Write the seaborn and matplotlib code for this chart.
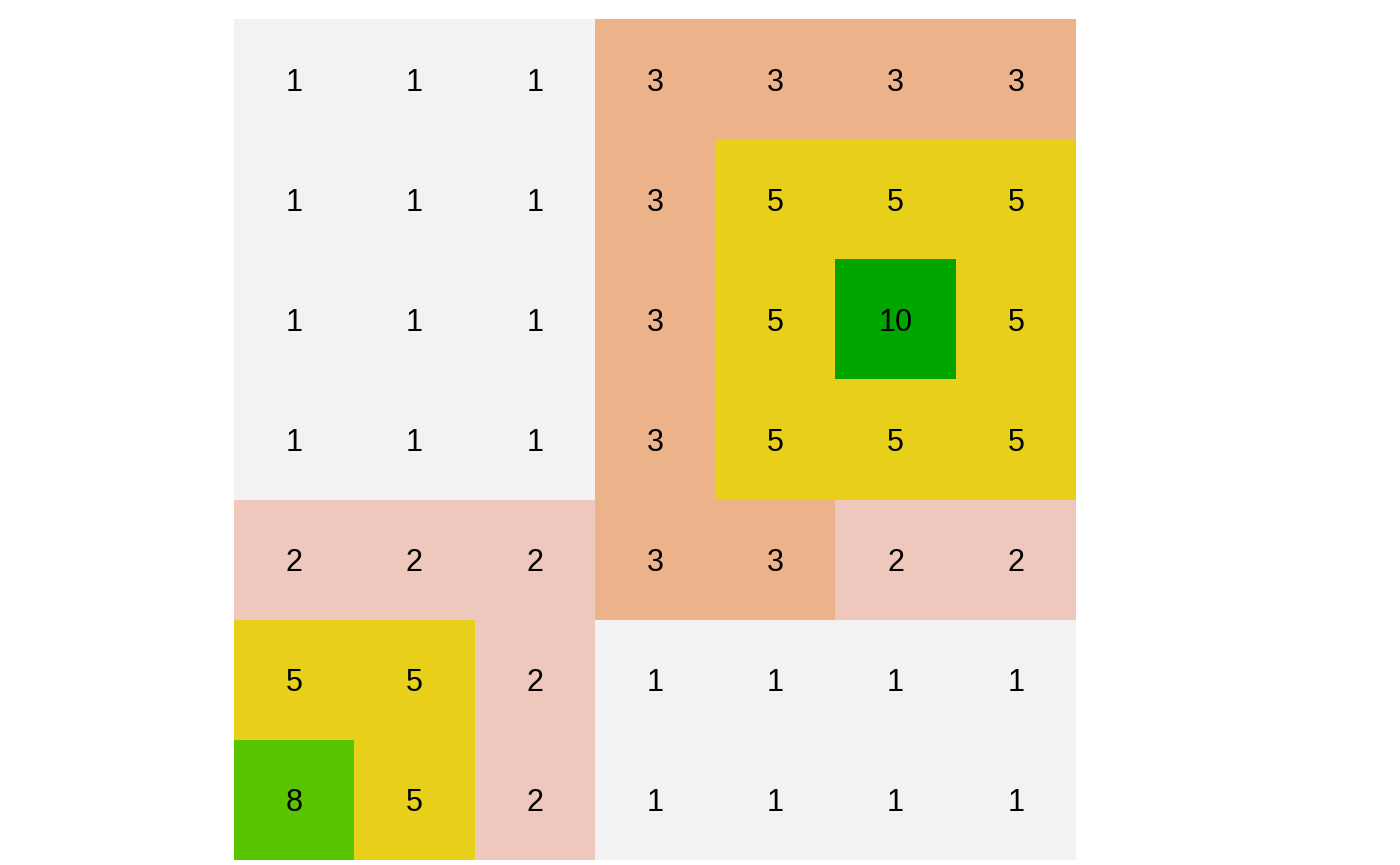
import numpy as np
import pandas as pd
import matplotlib
matplotlib.use("Agg")
import matplotlib.pyplot as plt
import seaborn as sns
from matplotlib.colors import ListedColormap

row1 = [1, 1, 1, 3, 3, 3, 3]
row2 = [1, 1, 1, 3, 5, 5, 5]
row3 = [1, 1, 1, 3, 5, 10, 5]
row4 = [1, 1, 1, 3, 5, 5, 5]
row5 = [2, 2, 2, 3, 3, 2, 2]
row6 = [5, 5, 2, 1, 1, 1, 1]
row7 = [8, 5, 2, 1, 1, 1, 1]

# value -> colour (values 1..10)
level_colors = ["#F2F2F2", "#EEC8BC", "#ECB28A", "#EAC14E", "#E8D01A",
                "#C8D400", "#90CE00", "#58C400", "#2DB600", "#00A600"]

data = pd.DataFrame([row1, row2, row3, row4, row5, row6, row7])

sns.set_theme(style="white")
plt.rcParams['font.family'] = ['Liberation Sans', 'DejaVu Sans']

fig = plt.figure(figsize=(14, 8.65), dpi=100)
ax = fig.add_axes([234/1400, 5/865, (1076-234)/1400, (860-19)/865])
sns.heatmap(data, ax=ax, cmap=ListedColormap(level_colors), vmin=0.5, vmax=10.5,
            annot=True, fmt="d", cbar=False, square=False,
            annot_kws={"color": "black", "fontsize": 22},
            xticklabels=False, yticklabels=False, linewidths=0)
for t in ax.texts:
    t.set_color("black")
    t.set_verticalalignment("center_baseline")
ax.set_xlabel("")
ax.set_ylabel("")
for s in ax.spines.values():
    s.set_visible(False)
fig.savefig("out.png", dpi=100)
